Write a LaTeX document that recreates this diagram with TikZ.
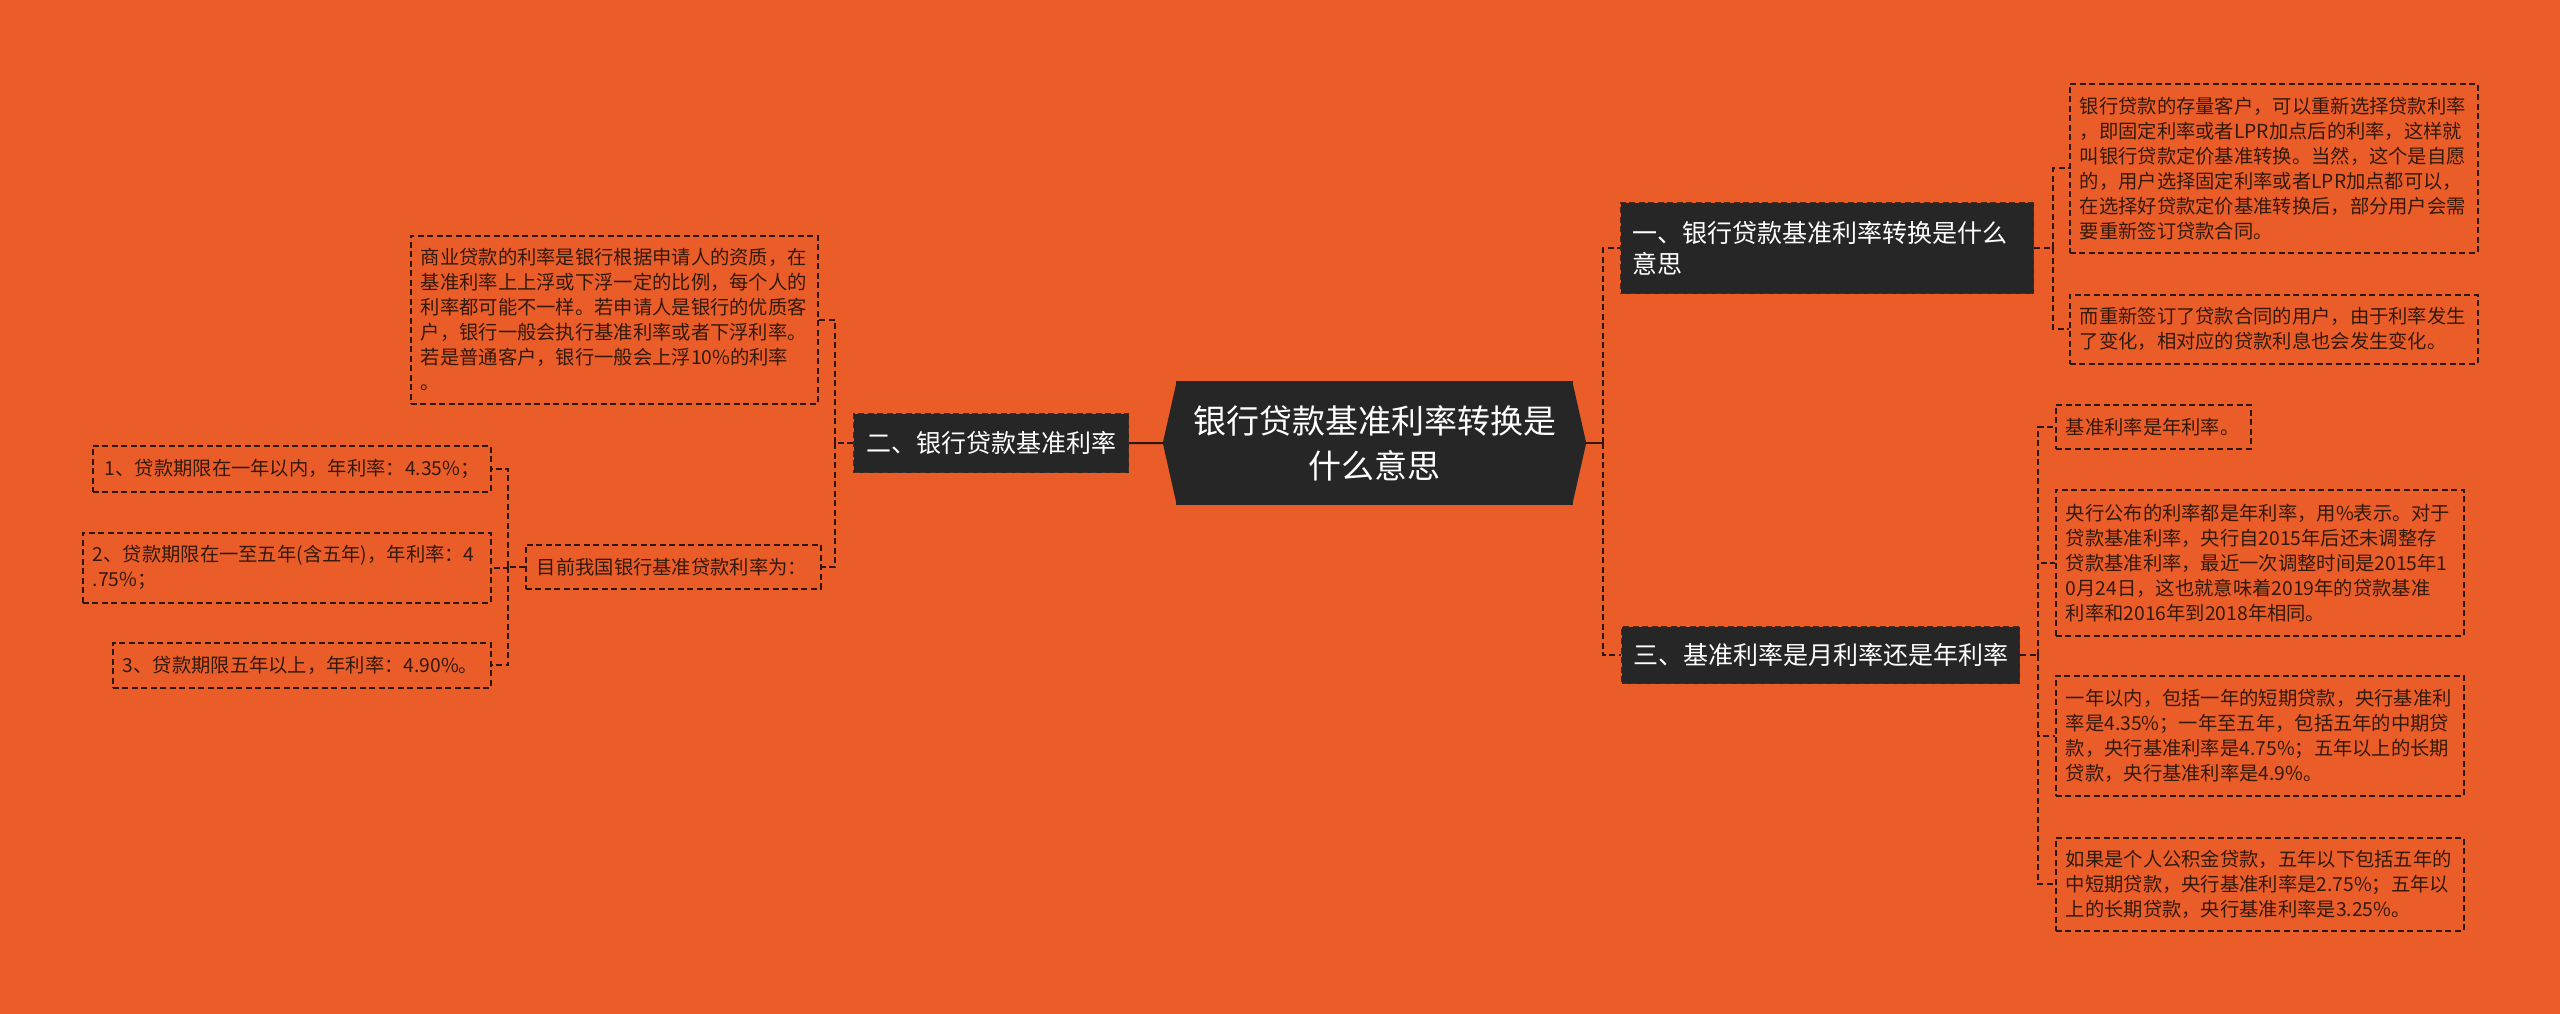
\documentclass[tikz,border=0pt]{standalone}
\usepackage{fontspec}
\newfontfamily\cjk{Noto Sans CJK SC}
\definecolor{bg}{HTML}{EA5D28}
\definecolor{dark}{HTML}{262626}
\definecolor{lc}{HTML}{2E170A}
\definecolor{tc}{HTML}{33190B}
\definecolor{bb}{HTML}{4A2A1A}
\tikzset{
  rootn/.style={fill=dark, text=white, minimum width=397pt, minimum height=124pt, align=center, inner sep=0pt, font=\cjk\fontsize{33}{45}\selectfont},
  branch/.style={fill=dark, draw=bb, dash pattern=on 6pt off 3.5pt, line width=1.2pt, text=white, inner sep=0pt, anchor=north west, font=\cjk\fontsize{25}{31}\selectfont},
  box/.style={draw=lc, dash pattern=on 6pt off 3.5pt, line width=1.6pt, text=tc, align=left, inner xsep=10pt, inner ysep=0pt, anchor=north west, font=\cjk\fontsize{19.3}{25}\selectfont},
  conn/.style={draw=lc, line width=1.7pt, dash pattern=on 6pt off 3.5pt},
  solidc/.style={draw=lc, line width=2pt}
}
\begin{document}
\begin{tikzpicture}[x=1pt,y=-1pt]
\fill[bg] (0,0) rectangle (2560,1014);
\useasboundingbox (0,0) rectangle (2560,1014);

% root
\node[rootn] (root) at (1374.5,443) {银行贷款基准利率转换是\\什么意思};
\fill[dark] ([xshift=1pt]root.north west) -- ([xshift=-13pt]root.west) -- ([xshift=1pt]root.south west) -- cycle;
\fill[dark] ([xshift=-1pt]root.north east) -- ([xshift=13pt]root.east) -- ([xshift=-1pt]root.south east) -- cycle;
\coordinate (rootL) at ([xshift=-13pt]root.west);
\coordinate (rootR) at ([xshift=13pt]root.east);

% branches
\node[branch, minimum width=275pt, minimum height=59pt] (n2) at (853,413) {二、银行贷款基准利率};
\node[branch, minimum width=413pt, minimum height=91pt, text width=389pt, inner xsep=12pt, align=left] (n1) at (1620,202) {一、银行贷款基准利率转换是什么\\意思};
\node[branch, minimum width=398pt, minimum height=57pt] (n3) at (1621,626) {三、基准利率是月利率还是年利率};

% right upper boxes
\node[box, minimum width=408pt, minimum height=169pt, text width=388pt] (bA) at (2069,83) {银行贷款的存量客户，可以重新选择贷款利率\\，即固定利率或者LPR加点后的利率，这样就\\叫银行贷款定价基准转换。当然，这个是自愿\\的，用户选择固定利率或者LPR加点都可以，\\在选择好贷款定价基准转换后，部分用户会需\\要重新签订贷款合同。};
\node[box, minimum width=408pt, minimum height=69pt, text width=388pt] (bB) at (2069,294) {而重新签订了贷款合同的用户，由于利率发生\\了变化，相对应的贷款利息也会发生变化。};

% right lower boxes
\node[box, minimum width=195pt, minimum height=44pt, text width=175pt] (bC) at (2055,404) {基准利率是年利率。};
\node[box, minimum width=408pt, minimum height=146pt, text width=388pt] (bD) at (2055,489) {央行公布的利率都是年利率，用\%表示。对于\\贷款基准利率，央行自2015年后还未调整存\\贷款基准利率，最近一次调整时间是2015年1\\0月24日，这也就意味着2019年的贷款基准\\利率和2016年到2018年相同。};
\node[box, minimum width=408pt, minimum height=120pt, text width=388pt] (bE) at (2055,675) {一年以内，包括一年的短期贷款，央行基准利\\率是4.35\%；一年至五年，包括五年的中期贷\\款，央行基准利率是4.75\%；五年以上的长期\\贷款，央行基准利率是4.9\%。};
\node[box, minimum width=408pt, minimum height=93pt, text width=388pt] (bF) at (2055,837) {如果是个人公积金贷款，五年以下包括五年的\\中短期贷款，央行基准利率是2.75\%；五年以\\上的长期贷款，央行基准利率是3.25\%。};

% left boxes
\node[box, minimum width=407pt, minimum height=168pt, text width=387pt] (bG) at (410,235) {商业贷款的利率是银行根据申请人的资质，在\\基准利率上上浮或下浮一定的比例，每个人的\\利率都可能不一样。若申请人是银行的优质客\\户，银行一般会执行基准利率或者下浮利率。\\若是普通客户，银行一般会上浮10\%的利率\\。};
\node[box, minimum width=293pt, minimum height=44pt, text width=273pt, inner xsep=11pt] (bH) at (525,544) {目前我国银行基准贷款利率为：};
\node[box, minimum width=398pt, minimum height=46pt, text width=374pt, inner xsep=12pt] (bI) at (92,445) {1、贷款期限在一年以内，年利率：4.35\%；};
\node[box, minimum width=408pt, minimum height=70pt, text width=388pt] (bJ) at (82,532) {2、贷款期限在一至五年(含五年)，年利率：4\\.75\%；};
\node[box, minimum width=378pt, minimum height=45pt, text width=358pt] (bK) at (112,642) {3、贷款期限五年以上，年利率：4.90\%。};

% connectors: root
\draw[solidc] (n2.east) -- (rootL);
\coordinate (bR) at (1603,443);
\draw[solidc] (rootR) -- (bR);
\draw[conn] (bR) |- (n1.west);
\draw[conn] (bR) |- (n3.west);

% n1 children
\path (n1.east) ++(19,0) coordinate (b1);
\draw[conn] (n1.east) -- (b1);
\draw[conn] (b1) |- (bA.west);
\draw[conn] (b1) |- (bB.west);

% n3 children
\path (n3.east) ++(18,0) coordinate (b3);
\draw[conn] (n3.east) -- (b3);
\draw[conn] (b3) |- (bC.west);
\draw[conn] (b3) |- (bD.west);
\draw[conn] (b3) |- (bE.west);
\draw[conn] (b3) |- (bF.west);

% n2 children
\path (n2.west) ++(-18,0) coordinate (b2);
\draw[conn] (n2.west) -- (b2);
\draw[conn] (b2) |- (bG.east);
\draw[conn] (b2) |- (bH.east);

% H children
\path (bH.west) ++(-17,0) coordinate (bh);
\draw[conn] (bH.west) -- (bh);
\draw[conn] (bh) |- (bI.east);
\draw[conn] (bh) |- (bJ.east);
\draw[conn] (bh) |- (bK.east);
\end{tikzpicture}
\end{document}
